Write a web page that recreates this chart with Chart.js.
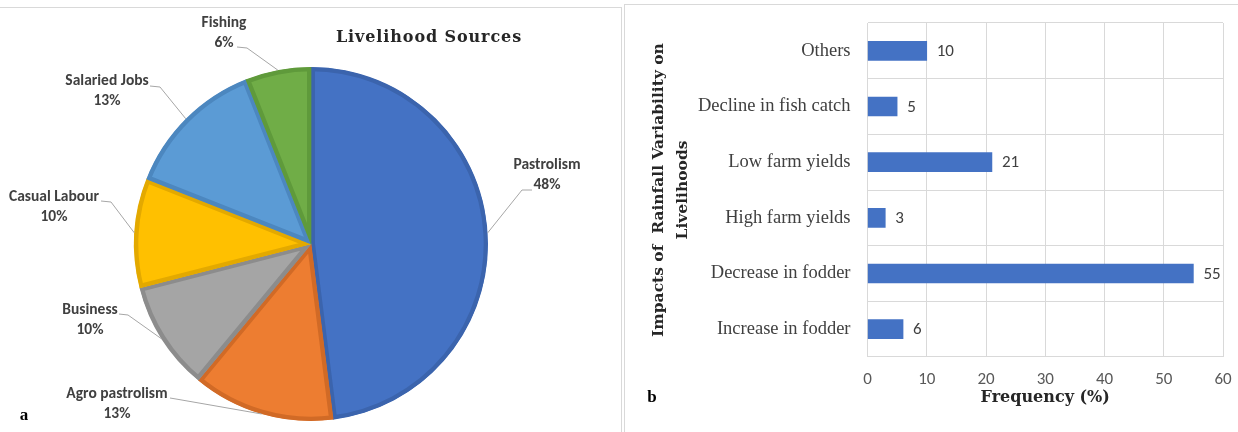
<!DOCTYPE html>
<html>
<head>
<meta charset="utf-8">
<title>Livelihood sources and rainfall impacts</title>
<script src="https://cdn.jsdelivr.net/npm/chart.js@4.4.1/dist/chart.umd.min.js"></script>
<style>
    html, body { margin: 0; padding: 0; background: #fff; }
    body { width: 1238px; height: 432px; position: relative; overflow: hidden; }
    canvas { position: absolute; }
    #pieCanvas { left: 0; top: 0; }
    #barCanvas { left: 625px; top: 5px; }
    .frame { position: absolute; background: #d9d9d9; }
</style>
</head>
<body>
<!-- panel frames -->
<div class="frame" style="left:0;top:7px;width:622px;height:1px;"></div>
<div class="frame" style="left:621px;top:7px;width:1px;height:425px;"></div>
<div class="frame" style="left:624px;top:4px;width:614px;height:1px;"></div>
<div class="frame" style="left:624px;top:4px;width:1px;height:428px;"></div>

<canvas id="pieCanvas" width="621" height="432"></canvas>
<canvas id="barCanvas" width="613" height="427"></canvas>

<script>
// Panel a: livelihood sources (%)
const sourceNames = ['Pastrolism', 'Agro pastrolism', 'Business', 'Casual Labour', 'Salaried Jobs', 'Fishing'];
const sourceShares = [48, 13, 10, 10, 13, 6];

// Panel b: impacts of rainfall variability (frequency %)
const impactNames = ['Others', 'Decline in fish catch', 'Low farm yields', 'High farm yields', 'Decrease in fodder', 'Increase in fodder'];
const impactShares = [10, 5, 21, 3, 55, 6];
const freqTicks = [0, 10, 20, 30, 40, 50, 60];

const SERIF = '"Liberation Serif", "Times New Roman", serif';
const HEAVY_SERIF = '"DejaVu Serif", serif';
const SANS = 'Carlito, Calibri, Lato, sans-serif';

const sliceFill = ['#4472C4', '#ED7D31', '#A5A5A5', '#FFC000', '#5B9BD5', '#70AD47'];
const sliceEdge = ['#3B64AD', '#D16A26', '#8C8C8C', '#E3A900', '#4C87BF', '#5F9A3B'];

// where each outside label sits, and where its leader line bends
const pieLabelSpots = [
    { x: 547, y: 175, bend: [522, 190], end: [532, 190] },
    { x: 117, y: 404, bend: [176, 399], end: [170, 398] },
    { x: 90,  y: 320, bend: [128, 315], end: [119, 314] },
    { x: 54,  y: 207, bend: [111, 202], end: [101, 201] },
    { x: 107, y: 91,  bend: [160, 87],  end: [150, 86] },
    { x: 224, y: 33,  bend: [247, 48],  end: [237, 47] }
];

const pieLabels = {
    id: 'pieLabels',
    afterDatasetsDraw(chart) {
        const ctx = chart.ctx;
        const arcs = chart.getDatasetMeta(0).data;
        ctx.save();
        arcs.forEach((arc, i) => {
            const { x, y, startAngle, endAngle, outerRadius } = arc.getProps(['x', 'y', 'startAngle', 'endAngle', 'outerRadius'], true);
            const mid = (startAngle + endAngle) / 2;
            const ax = x + Math.cos(mid) * outerRadius;
            const ay = y + Math.sin(mid) * outerRadius;
            const spot = pieLabelSpots[i];

            ctx.strokeStyle = '#a6a6a6';
            ctx.lineWidth = 1;
            ctx.beginPath();
            ctx.moveTo(ax, ay);
            ctx.lineTo(spot.bend[0], spot.bend[1]);
            ctx.lineTo(spot.end[0], spot.end[1]);
            ctx.stroke();

            ctx.fillStyle = '#404040';
            ctx.font = `bold 15.5px ${SANS}`;
            ctx.textAlign = 'center';
            ctx.textBaseline = 'middle';
            ctx.fillText(chart.data.labels[i], spot.x, spot.y - 10);
            ctx.fillText(chart.data.datasets[0].data[i] + '%', spot.x, spot.y + 10);
        });

        // heading and panel letter
        ctx.fillStyle = '#262626';
        ctx.font = `bold 16px ${HEAVY_SERIF}`;
        ctx.letterSpacing = '0.9px';
        ctx.textAlign = 'center';
        ctx.fillText('Livelihood Sources', 429, 38);
        ctx.letterSpacing = '0px';
        ctx.fillStyle = '#000';
        ctx.font = `bold 17px ${SERIF}`;
        ctx.fillText('a', 24, 416);
        ctx.restore();
    }
};

new Chart(document.getElementById('pieCanvas'), {
    type: 'pie',
    data: {
        labels: sourceNames,
        datasets: [{
            data: sourceShares,
            backgroundColor: sliceFill,
            borderColor: sliceEdge,
            borderWidth: 4,
            borderAlign: 'inner'
        }]
    },
    options: {
        responsive: false,
        animation: false,
        radius: 177,
        layout: { padding: { left: 134, right: 133, top: 67, bottom: 11 } },
        plugins: {
            legend: { display: false },
            tooltip: { enabled: false }
        }
    },
    plugins: [pieLabels]
});

const barValues = {
    id: 'barValues',
    afterDatasetsDraw(chart) {
        const ctx = chart.ctx;
        const bars = chart.getDatasetMeta(0).data;
        ctx.save();
        ctx.fillStyle = '#404040';
        ctx.font = `17px ${SANS}`;
        ctx.textAlign = 'left';
        ctx.textBaseline = 'middle';
        bars.forEach((bar, i) => {
            ctx.fillText(String(chart.data.datasets[0].data[i]), bar.x + 10, bar.y + 1);
        });
        ctx.fillStyle = '#000';
        ctx.font = `bold 17px ${SERIF}`;
        ctx.textAlign = 'center';
        ctx.fillText('b', 27, 393);
        ctx.restore();
    }
};

// fixed axis boxes so the plot area lands where it should
const pinScale = (size) => (scale) => {
    if (scale.isHorizontal()) scale.height = size; else scale.width = size;
    scale.paddingTop = 0;
    scale.paddingBottom = 0;
    scale.paddingLeft = 0;
    scale.paddingRight = 0;
};

new Chart(document.getElementById('barCanvas'), {
    type: 'bar',
    data: {
        labels: impactNames,
        datasets: [{
            data: impactShares,
            backgroundColor: '#4472C4',
            barThickness: 19
        }]
    },
    options: {
        indexAxis: 'y',
        responsive: false,
        animation: false,
        layout: { padding: { left: 10, right: 15, top: 18, bottom: 15 } },
        scales: {
            x: {
                min: freqTicks[0],
                max: freqTicks[freqTicks.length - 1],
                ticks: {
                    stepSize: freqTicks[1] - freqTicks[0],
                    padding: 13,
                    color: '#595959',
                    font: { family: SANS, size: 17 }
                },
                grid: { color: '#d9d9d9', drawTicks: false },
                border: { display: false },
                title: {
                    display: true,
                    text: 'Frequency (%)',
                    color: '#262626',
                    font: { family: HEAVY_SERIF, size: 16, weight: 'bold', lineHeight: '20px' },
                    padding: { top: 0, bottom: 9 }
                },
                afterFit: pinScale(60)
            },
            y: {
                ticks: {
                    padding: 17,
                    color: '#404040',
                    font: { family: SERIF, size: 18.5 }
                },
                grid: { color: '#d9d9d9', drawTicks: false, offset: true },
                border: { display: false },
                title: {
                    display: true,
                    text: ['Impacts of  Rainfall Variability on', 'Livelihoods'],
                    color: '#262626',
                    font: { family: HEAVY_SERIF, size: 15.5, weight: 'bold', lineHeight: '24px' },
                    padding: { top: 12, bottom: 0 }
                },
                afterFit: pinScale(232.5)
            }
        },
        plugins: {
            legend: { display: false },
            tooltip: { enabled: false }
        }
    },
    plugins: [barValues]
});
</script>
</body>
</html>
